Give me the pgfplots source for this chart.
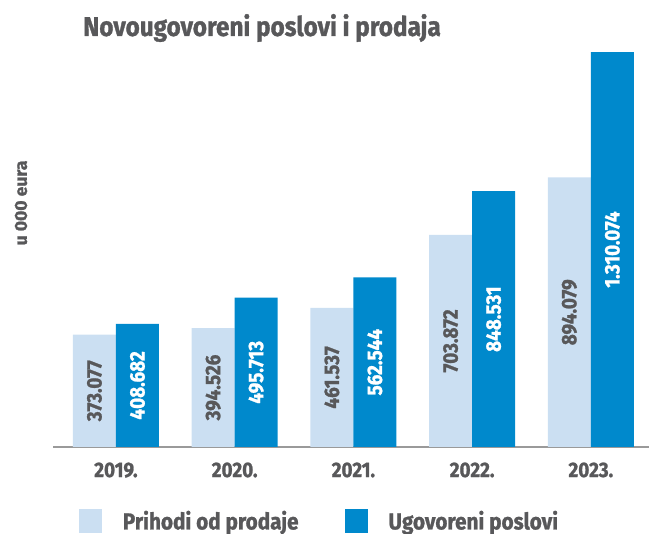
\documentclass[border=0pt]{standalone}
\usepackage{fontspec}
\setmainfont{Fira Sans}[FakeStretch=0.9, BoldFeatures={FakeBold=1.2}]
\newfontfamily\widefont{Fira Sans}[FakeStretch=1.0, BoldFeatures={FakeBold=1.2}]
\usepackage{pgfplots}
\usepackage{pgfplotstable}
\pgfplotsset{compat=1.18}
\definecolor{lightbar}{HTML}{CBDFF2}
\definecolor{darkbar}{HTML}{0089CC}
\definecolor{txtgray}{HTML}{58585A}
\definecolor{basegray}{HTML}{9A9A9A}

% values in thousands of euros
\pgfplotstableread{
x y lab
0 373.077 373.077
1 394.526 394.526
2 461.537 461.537
3 703.872 703.872
4 894.079 894.079
}\prihodi
\pgfplotstableread{
x y lab
0 408.682 408.682
1 495.713 495.713
2 562.544 562.544
3 848.531 848.531
4 1310.074 1.310.074
}\ugovoreni

\begin{document}
\begin{tikzpicture}
\useasboundingbox (0,0) rectangle (649pt,534pt);
\node[font=\bfseries\fontsize{27}{30}\selectfont, text=txtgray] at (262pt,506pt) {Novougovoreni poslovi i prodaja};
\node[font=\widefont\bfseries\fontsize{17.5}{20}\selectfont, text=txtgray, rotate=90] at (21pt,331pt) {u 000 eura};
\begin{axis}[
  at={(53pt,87pt)}, anchor=south west,
  scale only axis,
  width=596pt, height=422pt,
  xmin=-0.53, xmax=4.49,
  ymin=0, ymax=1400,
  hide y axis,
  axis x line*=bottom,
  x axis line style={draw=basegray, line width=1.2pt, -},
  major tick length=0pt,
  xtick={0,1,2,3,4},
  xticklabels={2019.,2020.,2021.,2022.,2023.},
  xticklabel style={font=\bfseries\fontsize{21}{24}\selectfont, text=txtgray, yshift=-12pt},
  ybar=0pt,
  bar width=43pt,
  point meta=explicit symbolic,
  visualization depends on={y \as \rawy},
  nodes near coords,
  nodes near coords style={yshift={-\rawy*0.150714pt}, rotate=90, anchor=center, font=\bfseries\fontsize{21}{24}\selectfont},
  legend columns=2,
  legend style={at={(axis description cs:0.038,-0.175)}, anchor=west, draw=none, fill=none,
    font=\bfseries\fontsize{23}{26}\selectfont, text=txtgray,
    column sep=19pt, /tikz/every even column/.append style={column sep=44pt}},
  legend image code/.code={\path[#1, draw=none] (0pt,-12pt) rectangle (23pt,12pt);},
]
\addplot[fill=lightbar, draw=none, nodes near coords style={text=txtgray}] table[x=x, y=y, meta=lab] {\prihodi};
\addplot[fill=darkbar, draw=none, nodes near coords style={text=white}] table[x=x, y=y, meta=lab] {\ugovoreni};
\legend{Prihodi od prodaje, Ugovoreni poslovi}
\end{axis}
\end{tikzpicture}
\end{document}
